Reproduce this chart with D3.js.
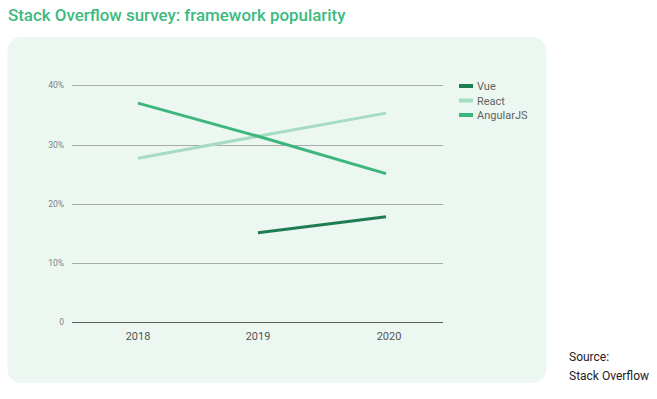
<!DOCTYPE html>
<html>
<head>
<meta charset="utf-8">
<script src="https://cdn.jsdelivr.net/npm/d3@7"></script>
<style>
  html, body { margin: 0; padding: 0; background: #ffffff; }
  svg { display: block; font-family: Roboto, "Noto Sans", sans-serif; }
</style>
</head>
<body>
<svg id="chart" width="657" height="399"></svg>
<script>
const years = ["2018", "2019", "2020"];
const seriesNames = ["Vue", "React", "AngularJS"];
const vueValues = [null, 15.1, 17.8];
const reactValues = [27.7, 31.4, 35.3];
const angularValues = [37.0, 31.4, 25.1];
const yTicks = [0, 10, 20, 30, 40];
const yTickLabels = ["0", "10%", "20%", "30%", "40%"];
const colors = ["#1f7d52", "#a5dcc2", "#3db67e"];

const series = [vueValues, reactValues, angularValues].map((vals, i) => ({
  name: seriesNames[i],
  color: colors[i],
  points: years.map((y, j) => ({ year: y, value: vals[j] }))
}));

const svg = d3.select("#chart");

// Title
svg.append("text")
  .attr("x", 8).attr("y", 21)
  .attr("font-size", 16.9).attr("font-weight", 500)
  .attr("fill", "#3dba80")
  .text("Stack Overflow survey: framework popularity");

// Panel
svg.append("rect")
  .attr("x", 7.5).attr("y", 37).attr("width", 539).attr("height", 346)
  .attr("rx", 14).attr("fill", "#ecf7f2");

const x = d3.scaleOrdinal().domain(years).range([138, 258, 386]);
const y = d3.scaleLinear().domain([0, 40]).range([322.3, 85.3]);
const gridX0 = 72, gridX1 = 443;

// Grid lines
svg.append("g").selectAll("line")
  .data(yTicks.filter(t => t !== 0))
  .join("line")
  .attr("x1", gridX0).attr("x2", gridX1)
  .attr("y1", d => Math.round(y(d)) + 0.5).attr("y2", d => Math.round(y(d)) + 0.5)
  .attr("stroke", "#a8aca9").attr("stroke-width", 1);

// Baseline
svg.append("line")
  .attr("x1", gridX0).attr("x2", gridX1)
  .attr("y1", Math.round(y(0)) + 0.5).attr("y2", Math.round(y(0)) + 0.5)
  .attr("stroke", "#5a5e5b").attr("stroke-width", 1.2);

// Y tick labels
svg.append("g").selectAll("text")
  .data(yTicks)
  .join("text")
  .attr("x", 64).attr("y", d => y(d) + 3)
  .attr("text-anchor", "end")
  .attr("font-size", 8.5).attr("fill", "#7d7f7e")
  .text((d, i) => yTickLabels[i]);

// X labels
svg.append("g").selectAll("text")
  .data(years)
  .join("text")
  .attr("x", d => x(d) + (d === "2020" ? 3 : 0)).attr("y", 340)
  .attr("text-anchor", "middle")
  .attr("font-size", 11).attr("fill", "#555")
  .text(d => d);

// Lines
const line = d3.line()
  .defined(d => d.value !== null)
  .x(d => x(d.year))
  .y(d => y(d.value));

svg.append("g").selectAll("path")
  .data(series)
  .join("path")
  .attr("d", d => line(d.points))
  .attr("fill", "none")
  .attr("stroke", d => d.color)
  .attr("stroke-width", 3);

// Legend
const legend = svg.append("g").selectAll("g")
  .data(series)
  .join("g")
  .attr("transform", (d, i) => `translate(459, ${86 + i * 14.5})`);
legend.append("rect")
  .attr("x", 0).attr("y", -2).attr("width", 14).attr("height", 4)
  .attr("fill", d => d.color);
legend.append("text")
  .attr("x", 18).attr("y", 4)
  .attr("font-size", 11).attr("fill", "#5f6360")
  .text(d => d.name);

// Source
svg.append("text").attr("x", 569).attr("y", 361)
  .attr("font-size", 12).attr("fill", "#222").text("Source:");
svg.append("text").attr("x", 569).attr("y", 380)
  .attr("font-size", 12).attr("fill", "#222").text("Stack Overflow");
</script>
</body>
</html>
